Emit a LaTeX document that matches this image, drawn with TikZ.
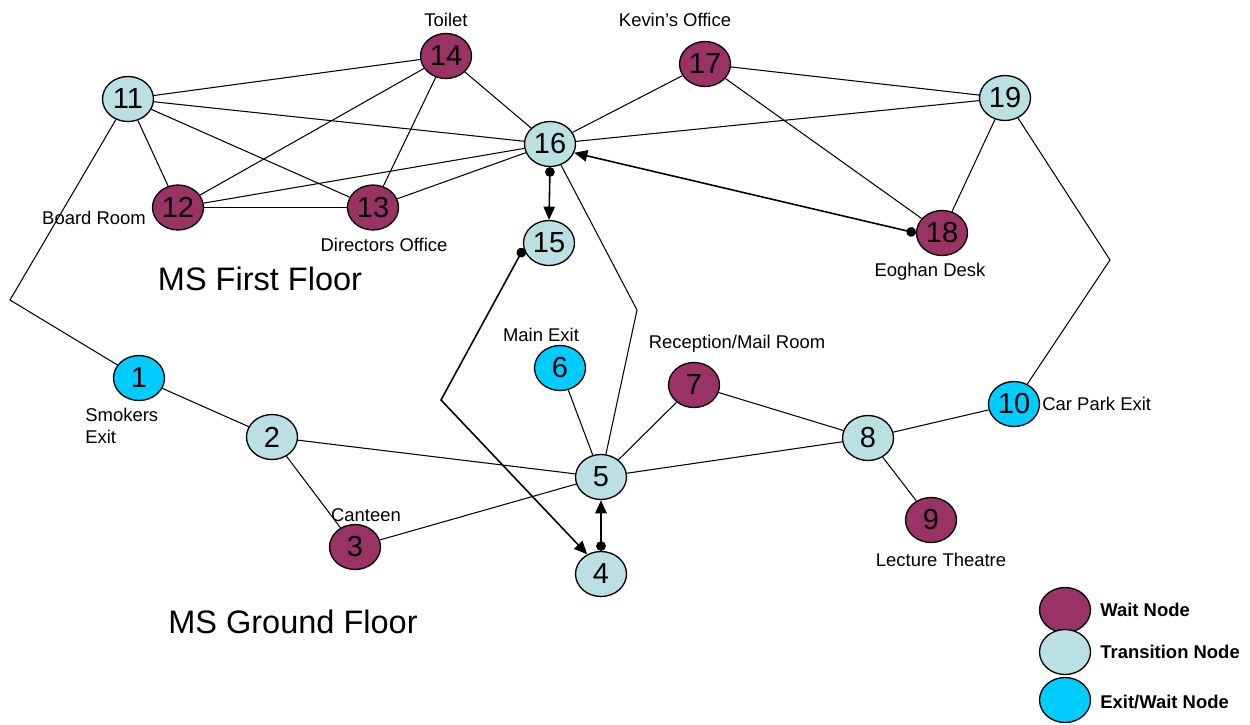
\documentclass[tikz,border=0pt]{standalone}
\usepackage{fontspec}
\setmainfont{Liberation Sans}
\usetikzlibrary{arrows.meta,shapes.geometric}
\definecolor{waitc}{HTML}{993366}
\definecolor{transc}{HTML}{BBE0E3}
\definecolor{exitc}{HTML}{00CCFF}
\tikzset{
  nd/.style={ellipse,draw=black,line width=0.75pt,minimum width=1.02cm,minimum height=0.9cm,inner sep=0pt,font=\fontsize{16.5}{18}\selectfont},
  waitn/.style={nd,fill=waitc},
  transn/.style={nd,fill=transc},
  exitn/.style={nd,fill=exitc},
  lbl/.style={font=\fontsize{10.5}{12.5}\selectfont,inner sep=0pt},
  title/.style={font=\fontsize{18.5}{22}\selectfont,inner sep=0pt},
  leg/.style={font=\bfseries\fontsize{10.5}{12.5}\selectfont,inner sep=0pt,anchor=west},
  edge/.style={line width=0.6pt},
  arr/.style={line width=0.9pt,{Circle[length=5.5pt]}-{Triangle[length=7.5pt,width=6.5pt]}},
}
\begin{document}
\begin{tikzpicture}[x=0.02cm,y=-0.02cm]
\useasboundingbox (0,0) rectangle (1250,724);
% coordinates for bends
\coordinate (k11) at (10,300);
\coordinate (k16) at (637,310);
\coordinate (k15) at (441,400);
\coordinate (k19) at (1110,260);
% nodes
\node[exitn] (n1) at (139,378) {1};
\node[transn] (n2) at (272,437) {2};
\node[waitn] (n3) at (355,547) {3};
\node[transn] (n4) at (601,574) {4};
\node[transn] (n5) at (601,477) {5};
\node[exitn] (n6) at (560,368) {6};
\node[waitn] (n7) at (694,385) {7};
\node[transn] (n8) at (868,438) {8};
\node[waitn] (n9) at (931,520) {9};
\node[exitn] (n10) at (1014,404) {10};
\node[transn] (n11) at (128,99) {11};
\node[waitn] (n12) at (178,207.5) {12};
\node[waitn] (n13) at (373,207.5) {13};
\node[waitn] (n14) at (446,56) {14};
\node[transn] (n15) at (549,243) {15};
\node[transn] (n16) at (550,144) {16};
\node[waitn] (n17) at (705,64) {17};
\node[waitn] (n18) at (942,233) {18};
\node[transn] (n19) at (1005,98) {19};
% edges
\draw[edge] (n11) -- (n14);
\draw[edge] (n11) -- (n16);
\draw[edge] (n11) -- (n13);
\draw[edge] (n11) -- (n12);
\draw[edge] (n11) -- (k11) -- (n1);
\draw[edge] (n14) -- (n12);
\draw[edge] (n14) -- (n13);
\draw[edge] (n14) -- (n16);
\draw[edge] (n12) -- (n13);
\draw[edge] (n12) -- (n16);
\draw[edge] (n13) -- (n16);
\draw[edge] (n16) -- (n17);
\draw[edge] (n16) -- (n19);
\draw[edge] (n17) -- (n19);
\draw[edge] (n17) -- (n18);
\draw[edge] (n19) -- (n18);
\draw[edge] (n16) -- (k16) -- (n5);
\draw[edge] (n19) -- (k19) -- (n10);
\draw[edge] (n1) -- (n2);
\draw[edge] (n2) -- (n5);
\draw[edge] (n2) -- (n3);
\draw[edge] (n3) -- (n5);
\draw[edge] (n5) -- (n6);
\draw[edge] (n5) -- (n7);
\draw[edge] (n5) -- (n8);
\draw[edge] (n7) -- (n8);
\draw[edge] (n8) -- (n10);
\draw[edge] (n8) -- (n9);
% arrows
\draw[arr] (n16.south) -- (n15.north);
\draw[arr] (n18.west) -- (n16.-20);
\draw[arr] (n15.192) -- (k15) -- (n4.125);
\draw[arr] (n4.north) -- (n5.south);
% labels
\node[lbl] (t14) at (446,20) {Toilet};
\node[lbl] (t17) at (675,20) {Kevin’s Office};
\node[lbl] (t12) at (94,218) {Board Room};
\node[lbl] (t13) at (384,245) {Directors Office};
\node[lbl] (t18) at (930,272) {Eoghan Desk};
\node[lbl] (t6) at (541,335) {Main Exit};
\node[lbl] (t7) at (737,344) {Reception/Mail Room};
\node[lbl,anchor=west] (t10) at (1042,404) {Car Park Exit};
\node[lbl,anchor=north west,align=left] (t1) at (85,408) {Smokers\\Exit};
\node[lbl] (t3) at (366,515) {Canteen};
\node[lbl] (t9) at (941,560) {Lecture Theatre};
\node[title] (f1) at (260,279) {MS First Floor};
\node[title] (f0) at (293,622) {MS Ground Floor};
% legend
\node[waitn] (l1) at (1065,610) {};
\node[transn] (l2) at (1065,652) {};
\node[exitn] (l3) at (1065,700) {};
\node[leg] (lt1) at (1100,610) {Wait Node};
\node[leg] (lt2) at (1100,652) {Transition Node};
\node[leg] (lt3) at (1100,702) {Exit/Wait Node};
\end{tikzpicture}
\end{document}
